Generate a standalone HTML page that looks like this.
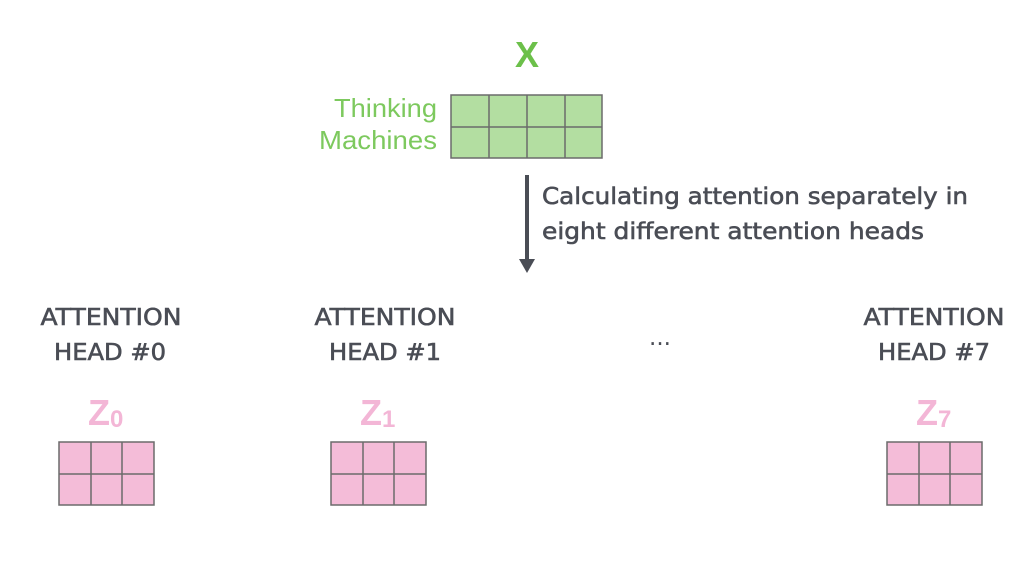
<!DOCTYPE html>
<html><head><meta charset="utf-8"><style>
html,body{margin:0;padding:0;background:#fff;}
svg{display:block;}
</style></head><body>
<svg width="1024" height="564" viewBox="0 0 1024 564" xmlns="http://www.w3.org/2000/svg">
<rect width="1024" height="564" fill="#fff"/>
<text x="527" y="67" text-anchor="middle" font-size="36" font-weight="bold" fill="#6cc04a" style="font-family:'Liberation Sans',sans-serif">X</text>
<text x="437" y="117" text-anchor="end" font-size="26" fill="#7dc95e" style="font-family:'Liberation Sans',sans-serif" textLength="103" lengthAdjust="spacingAndGlyphs">Thinking</text>
<text x="437" y="149" text-anchor="end" font-size="26" fill="#7dc95e" style="font-family:'Liberation Sans',sans-serif" textLength="118" lengthAdjust="spacingAndGlyphs">Machines</text>
<g stroke="#6b6b6b" stroke-width="1.5" fill="#b3dea1">
<rect x="451" y="95" width="151" height="63"/>
<line x1="489" y1="95" x2="489" y2="158"/><line x1="527" y1="95" x2="527" y2="158"/><line x1="565" y1="95" x2="565" y2="158"/>
<line x1="451" y1="127" x2="602" y2="127"/>
</g>
<line x1="527" y1="175" x2="527" y2="262" stroke="#4a4d55" stroke-width="4"/>
<polygon points="519,259 535,259 527,273" fill="#4a4d55"/>
<g fill="#4a4d55" stroke="#4a4d55" stroke-width="0.6" font-size="23" style="font-family:'DejaVu Sans',sans-serif">
<text x="542" y="204" textLength="426" lengthAdjust="spacingAndGlyphs">Calculating attention separately in</text>
<text x="542" y="239" textLength="382" lengthAdjust="spacingAndGlyphs">eight different attention heads</text>
</g>
<g fill="#4a4d55" stroke="#4a4d55" stroke-width="0.6" font-size="23" text-anchor="middle" style="font-family:'DejaVu Sans',sans-serif">
<text x="111" y="325" textLength="141" lengthAdjust="spacingAndGlyphs">ATTENTION</text>
<text x="110" y="360" textLength="112" lengthAdjust="spacingAndGlyphs">HEAD #0</text>
<text x="385" y="325" textLength="141" lengthAdjust="spacingAndGlyphs">ATTENTION</text>
<text x="385" y="360" textLength="112" lengthAdjust="spacingAndGlyphs">HEAD #1</text>
<text x="934" y="325" textLength="141" lengthAdjust="spacingAndGlyphs">ATTENTION</text>
<text x="934" y="360" textLength="112" lengthAdjust="spacingAndGlyphs">HEAD #7</text>
<text x="660" y="345" stroke-width="0">...</text>
</g>
<g fill="#f3b6d6" font-weight="bold" style="font-family:'Liberation Sans',sans-serif">
<text x="88" y="425" font-size="36">Z<tspan font-size="24" dy="2">0</tspan></text>
<text x="360" y="425" font-size="36">Z<tspan font-size="24" dy="2">1</tspan></text>
<text x="916" y="425" font-size="36">Z<tspan font-size="24" dy="2">7</tspan></text>
</g>
<g stroke="#6b6b6b" stroke-width="1.5" fill="#f4bcd8">
<rect x="59" y="442" width="95" height="63"/><line x1="91" y1="442" x2="91" y2="505"/><line x1="122" y1="442" x2="122" y2="505"/><line x1="59" y1="474" x2="154" y2="474"/>
<rect x="331" y="442" width="95" height="63"/><line x1="363" y1="442" x2="363" y2="505"/><line x1="394" y1="442" x2="394" y2="505"/><line x1="331" y1="474" x2="426" y2="474"/>
<rect x="887" y="442" width="95" height="63"/><line x1="919" y1="442" x2="919" y2="505"/><line x1="950" y1="442" x2="950" y2="505"/><line x1="887" y1="474" x2="982" y2="474"/>
</g>
</svg>
</body></html>
